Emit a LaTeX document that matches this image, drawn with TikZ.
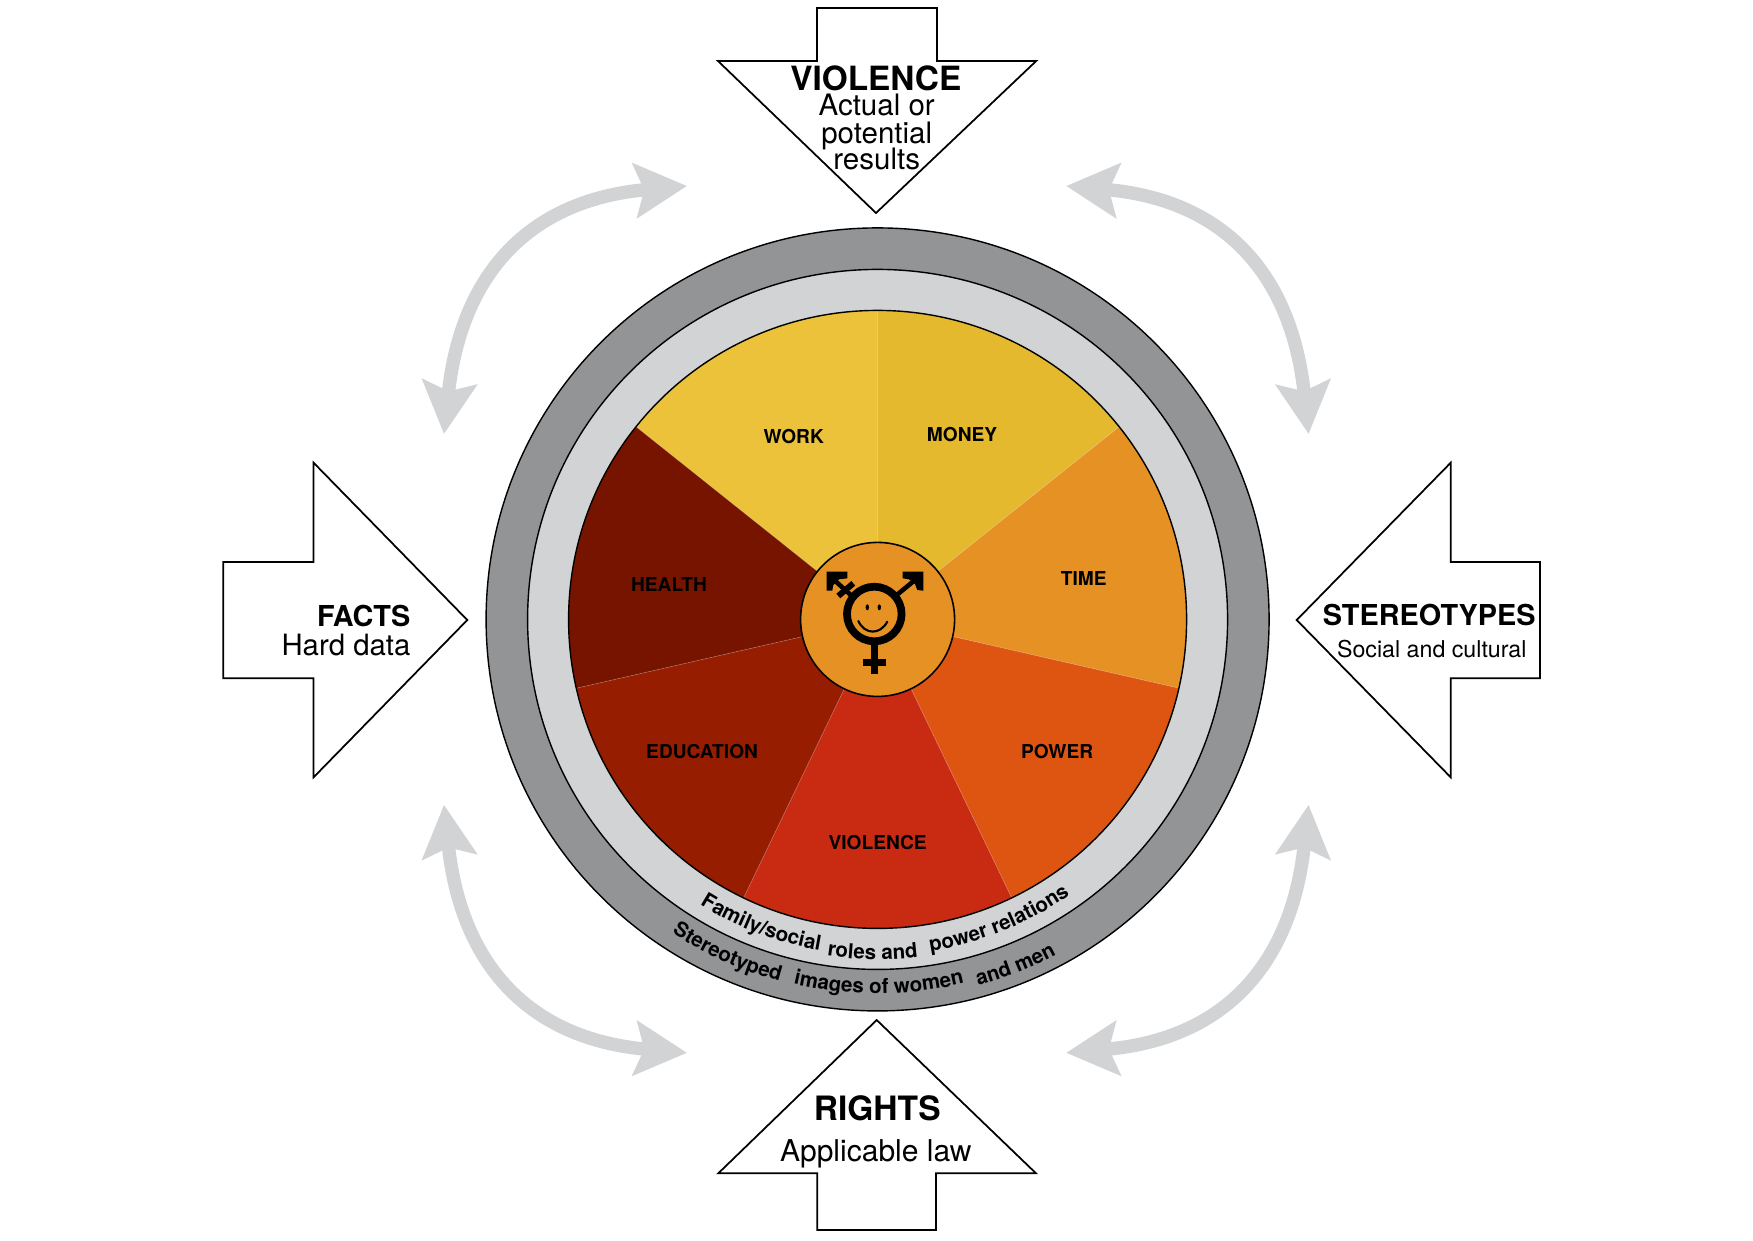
\documentclass[tikz,border=0pt]{standalone}
\usepackage{fontspec}
\setmainfont{TeX Gyre Heros}
\usetikzlibrary{arrows.meta,decorations.text}
\definecolor{ringdark}{HTML}{929496}
\definecolor{ringlight}{HTML}{D1D3D4}
\definecolor{workcol}{HTML}{EBC23A}
\definecolor{moneycol}{HTML}{E5B92D}
\definecolor{timecol}{HTML}{E69123}
\definecolor{powercol}{HTML}{DE5511}
\definecolor{violencecol}{HTML}{C92A12}
\definecolor{educationcol}{HTML}{961D00}
\definecolor{healthcol}{HTML}{771400}
\newcommand{\ringfont}{\fontsize{5.85}{6}\selectfont\bfseries}
\tikzset{
  blockarrow/.style={draw=black, fill=white, line width=0.5pt, line join=miter},
  swaparrow/.style={draw=ringlight, line width=3.8pt,
    {Stealth[length=14.8pt,width=15.4pt,inset=2.6pt]}-{Stealth[length=14.8pt,width=15.4pt,inset=2.6pt]}},
  slice/.style={draw=white, draw opacity=0.18, line width=0.2pt},
  ringline/.style={draw=black, line width=0.4pt},
  slicetext/.style={font=\fontsize{5.45}{6}\selectfont\bfseries, inner sep=0pt},
  headtext/.style={font=\fontsize{#1}{10}\selectfont\bfseries, anchor=base, inner sep=0pt},
  subtext/.style={font=\fontsize{#1}{10}\selectfont, anchor=base, inner sep=0pt},
  ringtext/.style={decorate, decoration={text along path, text align=center, text={|\ringfont|#1}}}
}

\begin{document}
\begin{tikzpicture}
\useasboundingbox (-8.776,-6.206) rectangle (8.754,6.194);

%rings
\fill[ringdark] (0,0) circle (3.915);
\draw[ringline] (0,0) circle (3.915);
\fill[ringlight] (0,0) circle (3.5);
\draw[ringline] (0,0) circle (3.5);

%slices
\fill[workcol, slice] (0,0)--(141.43:3.09) arc (141.43:90:3.09)--cycle;
\fill[moneycol, slice] (0,0)--(90:3.09) arc (90:38.57:3.09)--cycle;
\fill[timecol, slice] (0,0)--(38.57:3.09) arc (38.57:-12.86:3.09)--cycle;
\fill[powercol, slice] (0,0)--(-12.86:3.09) arc (-12.86:-64.29:3.09)--cycle;
\fill[violencecol, slice] (0,0)--(-64.29:3.09) arc (-64.29:-115.71:3.09)--cycle;
\fill[educationcol, slice] (0,0)--(-115.71:3.09) arc (-115.71:-167.14:3.09)--cycle;
\fill[healthcol, slice] (0,0)--(-167.14:3.09) arc (-167.14:-218.57:3.09)--cycle;
\draw[ringline] (0,0) circle (3.09);
\fill[timecol] (0,0) circle (0.77);
\draw[ringline, line width=0.45pt] (0,0) circle (0.77);

%slice labels
\node[slicetext] (work) at (-0.839,1.824) {WORK};
\node[slicetext] (money) at (0.845,1.846) {MONEY};
\node[slicetext] (time) at (2.062,0.414) {TIME};
\node[slicetext] (power) at (1.795,-1.319) {POWER};
\node[slicetext] (violence) at (0,-2.235) {VIOLENCE};
\node[slicetext] (education) at (-1.755,-1.319) {EDUCATION};
\node[slicetext] (health) at (-2.086,0.348) {HEALTH};

%ring labels
\path[ringtext={Family/social}] (238.2:3.36) arc (238.2:260:3.36);
\path[ringtext={roles and}] (261.7:3.40) arc (261.7:276.6:3.40);
\path[ringtext={power relations}] (279.3:3.36) arc (279.3:304.7:3.36);
\path[ringtext={Stereotyped}] (236.8:3.75) arc (236.8:254.8:3.75);
\path[ringtext={images of women}] (257.2:3.74) arc (257.2:283.2:3.74);
\path[ringtext={and men}] (285.2:3.80) arc (285.2:298.2:3.80);

%symbol
\draw[line width=2.2pt] (-0.033,0.054) circle (0.273);
\draw[line width=1.9pt] (-0.033,-0.239)--(-0.033,-0.546);
\draw[line width=1.9pt] (-0.143,-0.433)--(0.084,-0.433);
\draw[line width=1.3pt] (0.191,0.244)--(0.374,0.394);
\fill (0.251,0.477)--(0.457,0.477)--(0.457,0.287)--(0.397,0.294)--(0.374,0.354)--(0.314,0.401)--(0.251,0.411)--cycle;
\draw[line width=1.3pt] (-0.426,0.387)--(-0.243,0.221);
\fill (-0.509,0.477)--(-0.303,0.477)--(-0.303,0.411)--(-0.386,0.401)--(-0.443,0.344)--(-0.453,0.287)--(-0.509,0.287)--cycle;
\draw[line width=1.7pt] (-0.393,0.234)--(-0.243,0.361);
\fill (-0.103,0.121) ellipse (0.017 and 0.03);
\fill (0.017,0.121) ellipse (0.017 and 0.03);
\draw[line width=0.6pt, line cap=round] (-0.193,-0.016) .. controls (-0.126,-0.156) and (0.024,-0.156) .. (0.097,-0.023);

%block arrows
\draw[blockarrow] (-0.606,6.114)--(0.594,6.114)--(0.594,5.584)--(1.586,5.584)--(-0.016,4.064)--(-1.596,5.584)--(-0.606,5.584)--cycle;
\draw[blockarrow] (-0.603,-6.106)--(0.584,-6.106)--(0.584,-5.539)--(1.584,-5.539)--(-0.009,-4.006)--(-1.593,-5.539)--(-0.603,-5.539)--cycle;
\draw[blockarrow] (-6.543,0.574)--(-5.64,0.574)--(-5.64,1.567)--(-4.103,-0.006)--(-5.64,-1.579)--(-5.64,-0.589)--(-6.543,-0.589)--cycle;
\draw[blockarrow] (6.624,0.574)--(5.731,0.574)--(5.731,1.567)--(4.191,-0.006)--(5.731,-1.579)--(5.731,-0.589)--(6.624,-0.589)--cycle;

%block arrow labels
\node[headtext=9.5] (violencehead) at (-0.018,5.291) {VIOLENCE};
\node[subtext=8.4] (actual) at (-0.009,5.044) {Actual or};
\node[subtext=8.4] (potential) at (-0.009,4.757) {potential};
\node[subtext=8.4] (results) at (-0.009,4.501) {results};
\node[headtext=9.55] (rightshead) at (-0.003,-5.006) {RIGHTS};
\node[subtext=8.55] (law) at (-0.018,-5.416) {Applicable law};
\node[headtext=8.2, anchor=base east] (factshead) at (-4.665,-0.066) {FACTS};
\node[subtext=8.35, anchor=base east] (hard) at (-4.665,-0.356) {Hard data};
\node[headtext=8.2] (stereohead) at (5.516,-0.056) {STEREOTYPES};
\node[subtext=6.6] (social) at (5.542,-0.376) {Social and cultural};

%grey arrows
\coordinate (tla) at (-4.336,1.854);
\coordinate (tlb) at (-1.906,4.334);
\coordinate (tra) at (4.31,1.854);
\coordinate (trb) at (1.886,4.334);
\coordinate (bla) at (-4.336,-1.854);
\coordinate (blb) at (-1.906,-4.334);
\coordinate (bra) at (4.31,-1.854);
\coordinate (brb) at (1.886,-4.334);
\draw[swaparrow] (tla) .. controls (-4.166,3.444) and (-3.496,4.194) .. (tlb);
\draw[swaparrow] (tra) .. controls (4.14,3.444) and (3.476,4.194) .. (trb);
\draw[swaparrow] (bla) .. controls (-4.166,-3.444) and (-3.496,-4.194) .. (blb);
\draw[swaparrow] (bra) .. controls (4.14,-3.444) and (3.476,-4.194) .. (brb);
\end{tikzpicture}
\end{document}
